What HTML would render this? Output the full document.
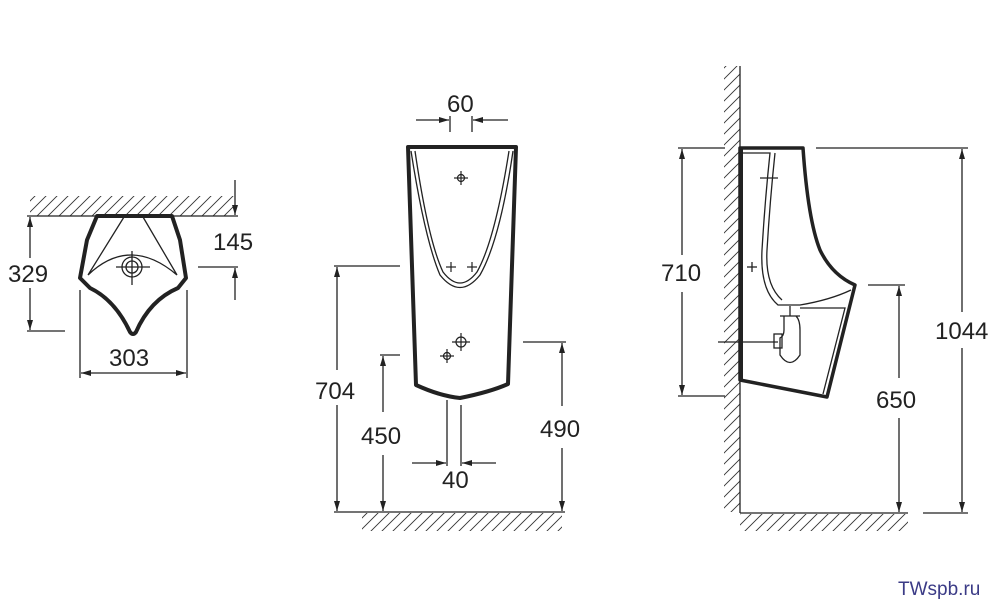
<!DOCTYPE html>
<html><head><meta charset="utf-8"><style>
html,body{margin:0;padding:0;background:#fff;width:1000px;height:600px;overflow:hidden}
text{font-family:"Liberation Sans",sans-serif;font-size:24px;fill:#222}
</style></head><body>
<svg width="1000" height="600" viewBox="0 0 1000 600" xmlns="http://www.w3.org/2000/svg">
<defs>
<marker id="a" viewBox="0 0 10 6" refX="10" refY="3" markerWidth="10" markerHeight="6" orient="auto-start-reverse" markerUnits="userSpaceOnUse"><path d="M0,0L10,3L0,6z" fill="#222"/></marker>
<pattern id="h" width="11" height="11" patternUnits="userSpaceOnUse"><path d="M0,11L11,0M-3,3L3,-3M8,14L14,8" stroke="#333" stroke-width="0.9"/></pattern>
</defs>
<g stroke="#222" fill="none" stroke-width="1.3">
<!-- LEFT VIEW -->
<rect x="30" y="196" width="205" height="20" fill="url(#h)" stroke="none"/>
<line x1="27" y1="216" x2="238" y2="216"/>
<path d="M97,216 L172,216 L180,240 L186,278 L178,288 Q150,300 136,332 Q133,336 130,332 Q115,300 90,288 L80,278 L87,240 Z" stroke-width="4" stroke-linejoin="round"/>
<path d="M88,275 L124,217 M177,275 L143,217 M88,275 Q130,235 177,275"/>
<circle cx="132" cy="267" r="10"/><circle cx="132" cy="267" r="6"/>
<line x1="116" y1="267" x2="150" y2="267"/><line x1="132" y1="251" x2="132" y2="285"/>
<line x1="235" y1="180" x2="235" y2="215" marker-end="url(#a)"/>
<line x1="198" y1="267" x2="238" y2="267"/>
<line x1="235" y1="300" x2="235" y2="268" marker-end="url(#a)"/>
<line x1="30" y1="258" x2="30" y2="217" marker-end="url(#a)"/>
<line x1="30" y1="288" x2="30" y2="330" marker-end="url(#a)"/>
<line x1="27" y1="331" x2="65" y2="331"/>
<line x1="80" y1="290" x2="80" y2="378"/><line x1="187" y1="290" x2="187" y2="378"/>
<line x1="81" y1="373" x2="186" y2="373" marker-start="url(#a)" marker-end="url(#a)"/>

<!-- MIDDLE VIEW -->
<path d="M408,147 L516,147 L508,384 Q490,392 460,398 Q440,396 416,385 Z" stroke-width="4" stroke-linejoin="round"/>
<path d="M411,151 Q425,240 440,275 Q460,300 480,275 Q500,240 513,151"/>
<path d="M415,151 Q428,240 443,272 Q460,294 477,272 Q495,240 509,151"/>
<line x1="416" y1="120" x2="449" y2="120" marker-end="url(#a)"/>
<line x1="508" y1="120" x2="473" y2="120" marker-end="url(#a)"/>
<line x1="450" y1="116" x2="450" y2="132"/><line x1="472" y1="116" x2="472" y2="132"/>
<g stroke-width="1.2">
<circle cx="461" cy="178" r="3.5"/><line x1="454" y1="178" x2="468" y2="178"/><line x1="461" y1="171" x2="461" y2="185"/>
<line x1="446" y1="267" x2="456" y2="267"/><line x1="451" y1="262" x2="451" y2="272"/>
<line x1="467" y1="267" x2="477" y2="267"/><line x1="472" y1="262" x2="472" y2="272"/>
<circle cx="461" cy="342" r="5"/><line x1="452" y1="342" x2="470" y2="342"/><line x1="461" y1="333" x2="461" y2="351"/>
<circle cx="447" cy="356" r="3.5"/><line x1="440" y1="356" x2="454" y2="356"/><line x1="447" y1="349" x2="447" y2="363"/>
</g>
<line x1="334" y1="266" x2="400" y2="266"/>
<line x1="337" y1="370" x2="337" y2="267" marker-end="url(#a)"/>
<line x1="337" y1="405" x2="337" y2="511" marker-end="url(#a)"/>
<line x1="380" y1="355" x2="400" y2="355"/>
<line x1="383" y1="412" x2="383" y2="356" marker-end="url(#a)"/>
<line x1="383" y1="455" x2="383" y2="511" marker-end="url(#a)"/>
<line x1="523" y1="342" x2="566" y2="342"/>
<line x1="562" y1="406" x2="562" y2="343" marker-end="url(#a)"/>
<line x1="562" y1="448" x2="562" y2="511" marker-end="url(#a)"/>
<line x1="447" y1="400" x2="447" y2="466"/><line x1="461" y1="405" x2="461" y2="466"/>
<line x1="412" y1="463" x2="446" y2="463" marker-end="url(#a)"/>
<line x1="496" y1="463" x2="462" y2="463" marker-end="url(#a)"/>
<rect x="362" y="513" width="200" height="18" fill="url(#h)" stroke="none"/>
<line x1="334" y1="512" x2="565" y2="512"/>

<!-- RIGHT VIEW -->
<rect x="724" y="66" width="16" height="446" fill="url(#h)" stroke="none"/>
<rect x="740" y="514" width="168" height="17" fill="url(#h)" stroke="none"/>
<line x1="740" y1="66" x2="740" y2="513"/>
<line x1="740" y1="513" x2="908" y2="513"/><line x1="923" y1="513" x2="968" y2="513"/>
<path d="M740,148 L803,148 Q808,220 820,250 Q832,275 855,285 L827,397 L740,380 Z" stroke-width="3.5" stroke-linejoin="round"/>
<line x1="741" y1="148" x2="741" y2="380" stroke-width="4"/>
<path d="M743,153 L770,153 Q765,200 762,250 Q760,290 778,305 L800,305 Q830,300 851,290 M775,153 Q770,200 767,250 Q765,285 782,300 M800,308 L845,308 L823,394"/>
<path d="M790,306 L790,316 M780,316 L800,316 M784,316 L784,330 Q784,336 780,338 L780,355 Q790,370 800,355 L800,330 Q800,320 796,316"/>
<rect x="774" y="334" width="8" height="14"/>
<line x1="718" y1="342" x2="778" y2="342"/>
<line x1="760" y1="178" x2="778" y2="178"/>
<line x1="752" y1="262" x2="752" y2="272"/><line x1="747" y1="267" x2="757" y2="267"/>
<line x1="678" y1="148" x2="725" y2="148"/><line x1="678" y1="396" x2="725" y2="396"/>
<line x1="682" y1="255" x2="682" y2="149" marker-end="url(#a)"/>
<line x1="682" y1="292" x2="682" y2="395" marker-end="url(#a)"/>
<line x1="816" y1="148" x2="968" y2="148"/>
<line x1="962" y1="312" x2="962" y2="149" marker-end="url(#a)"/>
<line x1="962" y1="348" x2="962" y2="512" marker-end="url(#a)"/>
<line x1="868" y1="285" x2="905" y2="285"/>
<line x1="899" y1="378" x2="899" y2="286" marker-end="url(#a)"/>
<line x1="899" y1="418" x2="899" y2="512" marker-end="url(#a)"/>
</g>
<g>
<text x="8" y="282">329</text>
<text x="213" y="250">145</text>
<text x="109" y="366">303</text>
<text x="447" y="112">60</text>
<text x="315" y="399">704</text>
<text x="361" y="444">450</text>
<text x="540" y="437">490</text>
<text x="442" y="488">40</text>
<text x="661" y="281">710</text>
<text x="935" y="339">1044</text>
<text x="876" y="408">650</text>
<text x="898" y="595" style="font-size:19px;fill:#3b3b86">TWspb.ru</text>
</g>
</svg>
</body></html>
